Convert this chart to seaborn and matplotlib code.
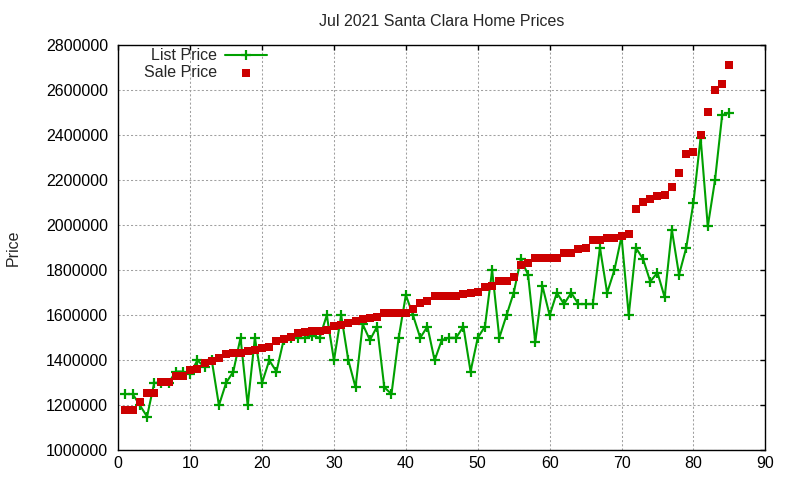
import numpy as np
import pandas as pd
import matplotlib
matplotlib.use("Agg")
import matplotlib.pyplot as plt
import seaborn as sns
from matplotlib.ticker import FuncFormatter, MultipleLocator

# home index (1..85) and prices
home_idx = list(range(1, 86))

list_price = [
    1250000, 1250000, 1200000, 1150000, 1300000, 1300000, 1300000, 1350000, 1350000, 1340000,
    1400000, 1370000, 1400000, 1200000, 1300000, 1350000, 1500000, 1200000, 1500000, 1300000,
    1400000, 1350000, 1490000, 1500000, 1500000, 1500000, 1510000, 1500000, 1600000, 1400000,
    1600000, 1400000, 1280000, 1560000, 1490000, 1550000, 1280000, 1250000, 1500000, 1690000,
    1600000, 1500000, 1550000, 1400000, 1490000, 1500000, 1500000, 1550000, 1350000, 1500000,
    1550000, 1800000, 1500000, 1600000, 1700000, 1850000, 1780000, 1480000, 1730000, 1600000,
    1700000, 1650000, 1700000, 1650000, 1650000, 1650000, 1900000, 1700000, 1800000, 1950000,
    1600000, 1900000, 1850000, 1750000, 1790000, 1680000, 1980000, 1780000, 1900000, 2100000,
    2390000, 1995000, 2200000, 2490000, 2500000,
]

sale_price = [
    1178000, 1178000, 1215000, 1255000, 1255000, 1305000, 1305000, 1330000, 1330000, 1357000,
    1360000, 1390000, 1398000, 1410000, 1427000, 1431000, 1434000, 1443000, 1446000, 1456000,
    1460000, 1485000, 1495000, 1505000, 1523000, 1527000, 1530000, 1532000, 1535000, 1552000,
    1556000, 1567000, 1576000, 1582000, 1588000, 1594000, 1608000, 1608000, 1608000, 1608000,
    1627000, 1654000, 1665000, 1687000, 1687000, 1687000, 1687000, 1695000, 1698000, 1705000,
    1727000, 1732000, 1752000, 1752000, 1769000, 1825000, 1832000, 1856000, 1856000, 1856000,
    1856000, 1878000, 1878000, 1893000, 1897000, 1935000, 1935000, 1945000, 1945000, 1954000,
    1963000, 2074000, 2105000, 2118000, 2132000, 2136000, 2172000, 2234000, 2318000, 2327000,
    2401000, 2505000, 2601000, 2629000, 2712000,
]

df = pd.DataFrame({"idx": home_idx, "list": list_price, "sale": sale_price})

sns.set_style("white")
plt.rcParams['font.family'] = ['Liberation Sans', 'DejaVu Sans']
plt.rcParams['font.size'] = 11.5

green = "#00a000"
red = "#cc0000"

fig = plt.figure(figsize=(8, 4.8), dpi=100)
ax = fig.add_axes([118.3 / 800, 1 - 450.3 / 480, 647 / 800, 405 / 480])

sns.lineplot(data=df, x="idx", y="list", ax=ax, color=green, linewidth=1.5,
             marker="+", markersize=7, markeredgewidth=1.6, markeredgecolor=green,
             label="List Price")
sns.scatterplot(data=df, x="idx", y="sale", ax=ax, color=red, marker="s",
                s=30, linewidth=0, zorder=3, label="Sale Price")

ax.set_xlim(0, 90)
ax.set_ylim(1000000, 2800000)
ax.xaxis.set_major_locator(MultipleLocator(10))
ax.yaxis.set_major_locator(MultipleLocator(200000))
ax.yaxis.set_major_formatter(FuncFormatter(lambda v, p: f"{int(v)}"))

ax.grid(True, color="#a0a0a0", linestyle=(0, (2, 2)), linewidth=0.75)
for s in ax.spines.values():
    s.set_color("black")
    s.set_linewidth(1)
ax.tick_params(direction="in", length=3.5, width=1, top=True, right=True,
               colors="black", labelsize=11.5)
ax.tick_params(axis="y", pad=7.5)
ax.tick_params(axis="x", pad=4)

ax.set_xlabel("")
ax.set_ylabel("Price", fontsize=11.5)
ax.yaxis.set_label_coords(-0.151, 0.5)
ax.set_title("Jul 2021 Santa Clara Home Prices", fontsize=11.5, pad=14)

ax.legend(loc="upper right", bbox_to_anchor=(267 / 800, 1 - 48.5 / 480),
          bbox_transform=fig.transFigure, frameon=False, markerfirst=False,
          borderpad=0, borderaxespad=0, handlelength=2.6, handletextpad=0.55,
          labelspacing=0.08, fontsize=11.5)

fig.savefig("out.png", dpi=100)
